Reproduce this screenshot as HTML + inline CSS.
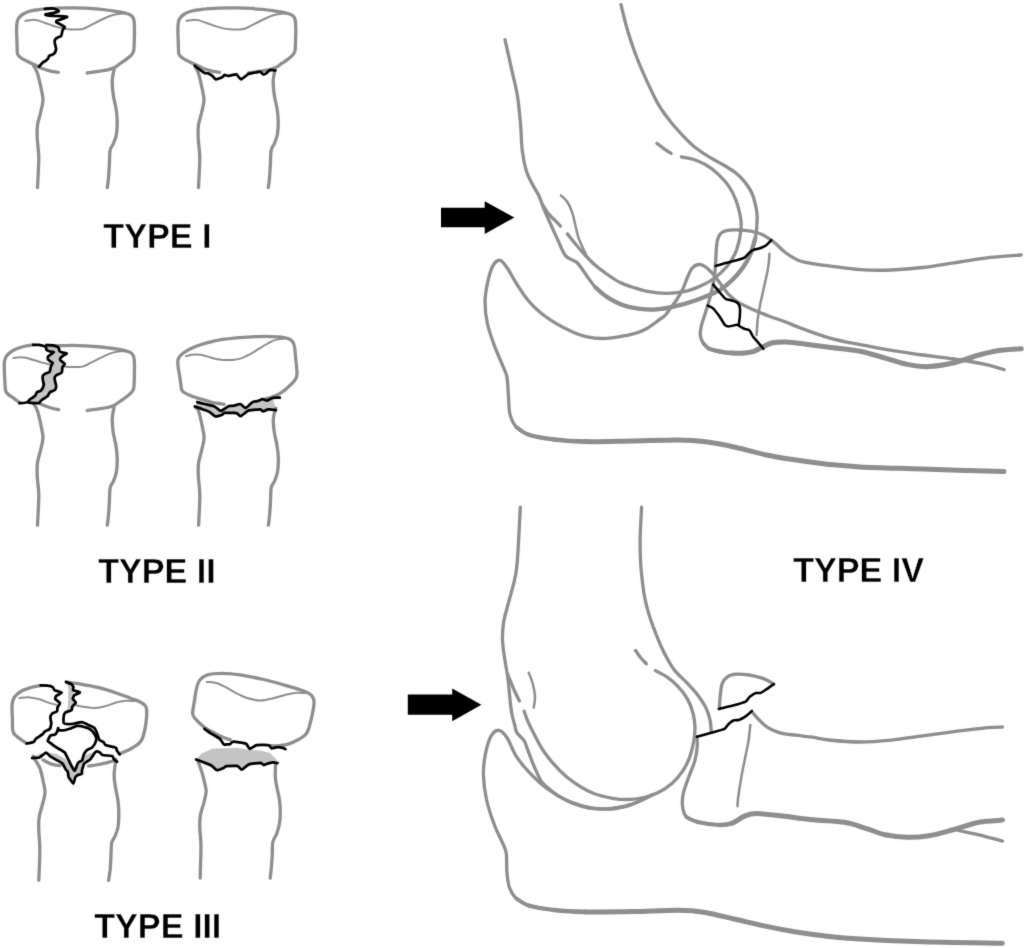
<!DOCTYPE html>
<html lang="en">
<head>
<meta charset="utf-8">
<title>Radial head fracture classification</title>
<style>
html,body{margin:0;padding:0;background:#fff;}
body{width:1024px;height:948px;overflow:hidden;}
svg{display:block;}
text{font-family:"Liberation Sans",Arial,Helvetica,sans-serif;font-weight:bold;fill:#000;}
</style>
</head>
<body>
<svg width="1024" height="948" viewBox="0 0 1024 948">
<defs><filter id="soft" filterUnits="userSpaceOnUse" x="0" y="0" width="1024" height="948" color-interpolation-filters="sRGB"><feFlood flood-color="#fff" result="bg"/><feMerge result="m"><feMergeNode in="bg"/><feMergeNode in="SourceGraphic"/></feMerge><feConvolveMatrix in="m" order="5" kernelMatrix="0.00000 0.00003 0.00021 0.00003 0.00000 0.00003 0.01133 0.08373 0.01133 0.00003 0.00021 0.08373 0.61869 0.08373 0.00021 0.00003 0.01133 0.08373 0.01133 0.00003 0.00000 0.00003 0.00021 0.00003 0.00000" edgeMode="duplicate" preserveAlpha="true"/></filter></defs>
<g filter="url(#soft)">
<path d="M58.4 72.3C57.1 72.1 53.2 71.7 50.6 71.1C48.0 70.5 45.3 69.7 42.8 68.8C40.3 67.8 38.0 66.2 35.8 65.2C33.6 64.2 31.6 63.5 29.5 62.5C27.4 61.5 25.0 60.4 23.3 59.4C21.5 58.4 20.0 57.3 19.0 56.2C18.0 55.2 17.7 55.3 17.4 53.1C17.1 50.9 17.1 46.6 17.0 43.0C16.9 39.4 16.6 34.5 16.6 31.2C16.6 28.0 16.6 25.5 16.9 23.4C17.2 21.3 17.3 20.2 18.2 18.8C19.1 17.3 20.6 15.7 22.5 14.5C24.4 13.3 27.0 12.1 29.5 11.3C32.0 10.5 34.7 10.2 37.3 9.8C39.8 9.4 41.5 9.0 44.8 8.8C48.1 8.5 52.3 8.4 56.9 8.2C61.5 8.0 67.7 7.8 72.5 7.8C77.3 7.8 80.8 7.9 85.6 8.2C90.4 8.5 96.7 9.0 101.2 9.4C105.8 9.9 109.4 10.4 113.0 10.9C116.6 11.4 120.4 11.9 123.1 12.5C125.8 13.1 127.8 13.8 129.4 14.5C131.0 15.2 131.7 15.7 132.5 16.8C133.3 17.9 133.8 18.7 134.1 21.1C134.4 23.5 134.5 27.6 134.5 31.2C134.5 34.9 134.3 39.7 134.2 43.0C134.1 46.3 134.1 48.8 133.7 50.8C133.3 52.7 132.9 53.3 131.7 54.7C130.5 56.1 128.2 57.9 126.2 59.4C124.3 60.9 122.0 62.3 120.0 63.7C118.0 65.1 116.6 66.6 114.5 67.6C112.4 68.6 110.4 69.3 107.5 69.9C104.6 70.6 100.7 71.0 97.3 71.5C93.9 72.0 88.9 72.8 87.2 73.0" fill="none" stroke="#8e8e8e" stroke-width="3.3" stroke-linecap="round" stroke-linejoin="round"/>
<path d="M25.2 20.9C26.3 20.7 29.9 20.0 31.9 19.9C33.9 19.8 35.1 19.8 37.3 20.3C39.5 20.8 42.6 22.1 45.2 23.0C47.8 23.9 50.4 24.9 53.0 25.8C55.6 26.6 58.2 27.5 60.8 28.1C63.4 28.7 66.0 29.1 68.6 29.3C71.2 29.5 73.8 29.6 76.4 29.5C79.0 29.4 81.1 29.6 84.2 28.5C87.3 27.4 91.5 24.7 95.0 23.0C98.5 21.2 102.1 19.4 105.2 18.0C108.3 16.6 111.2 15.5 113.8 14.8C116.3 14.1 118.7 13.9 120.8 13.7C122.9 13.5 125.3 13.7 126.2 13.7" fill="none" stroke="#8e8e8e" stroke-width="2.0" stroke-linecap="round" stroke-linejoin="round"/>
<path d="M33.6 65.6C34.2 66.9 36.3 69.8 37.5 73.4C38.7 77.1 40.0 83.1 40.9 87.5C41.8 91.9 43.0 95.8 43.0 100.0C42.9 104.2 41.5 108.3 40.6 112.5C39.7 116.7 38.1 120.8 37.5 125.0C36.9 129.2 37.0 132.3 37.2 137.5C37.4 142.7 38.6 150.5 38.8 156.2C38.9 162.0 38.5 166.7 38.3 171.9C38.1 177.1 37.6 184.9 37.5 187.5" fill="none" stroke="#8e8e8e" stroke-width="3.3" stroke-linecap="round" stroke-linejoin="round"/>
<path d="M114.1 69.5C113.8 71.5 112.3 77.0 112.2 81.2C112.1 85.5 112.7 90.9 113.3 95.3C113.9 99.7 115.3 103.6 115.9 107.8C116.6 112.0 117.1 115.9 117.2 120.3C117.3 124.7 117.1 130.5 116.4 134.4C115.8 138.3 114.3 141.1 113.3 143.8C112.2 146.4 110.8 146.6 110.2 150.0C109.5 153.4 109.6 159.6 109.4 164.1C109.1 168.5 108.9 172.7 108.6 176.6C108.3 180.5 107.6 185.7 107.3 187.5" fill="none" stroke="#8e8e8e" stroke-width="3.3" stroke-linecap="round" stroke-linejoin="round"/>
<path d="M44.8 8.8C45.8 8.7 50.6 8.3 52.2 8.4C53.8 8.5 56.0 9.4 56.9 9.8C57.8 10.2 59.2 10.9 58.8 11.3C58.4 11.7 55.5 12.5 53.8 12.9C52.0 13.3 46.1 14.1 45.5 14.5C44.9 14.9 47.6 15.4 49.1 15.6C50.6 15.8 54.5 15.8 56.9 16.0C59.3 16.2 66.1 16.5 67.0 16.8C67.9 17.1 65.2 17.9 63.9 18.4C62.6 18.9 57.9 20.2 56.9 20.7C55.9 21.2 56.1 21.8 56.5 22.3C56.9 22.8 58.9 23.6 60.0 24.2C61.1 24.8 64.2 26.5 64.7 27.0C65.2 27.5 64.2 27.5 63.9 28.1C63.6 28.7 62.7 30.2 62.3 31.2C61.9 32.3 61.8 35.1 61.2 35.9C60.6 36.7 58.5 37.0 57.7 37.5C56.9 38.0 55.3 39.0 54.9 39.8C54.5 40.6 54.7 42.5 54.9 43.8C55.1 45.0 56.2 48.0 56.1 49.2C56.0 50.4 55.0 52.4 54.5 53.1C54.0 53.8 52.9 54.3 52.2 54.7C51.5 55.1 49.6 55.4 49.1 55.9C48.6 56.4 48.8 57.5 48.3 58.2C47.8 58.9 46.2 60.3 45.5 60.9C44.8 61.5 43.7 61.7 42.8 62.5C41.9 63.3 39.4 66.2 38.9 66.8" fill="none" stroke="#000000" stroke-width="2.75" stroke-linecap="round" stroke-linejoin="round"/>
<path d="M219.7 72.3C218.4 72.1 214.5 71.7 211.9 71.1C209.3 70.5 206.6 69.7 204.1 68.8C201.6 67.8 199.3 66.2 197.1 65.2C194.9 64.2 192.9 63.5 190.8 62.5C188.7 61.5 186.3 60.4 184.6 59.4C182.8 58.4 181.3 57.3 180.3 56.2C179.3 55.2 179.0 55.3 178.7 53.1C178.4 50.9 178.4 46.6 178.3 43.0C178.2 39.4 177.9 34.5 177.9 31.2C177.9 28.0 177.9 25.5 178.2 23.4C178.5 21.3 178.6 20.2 179.5 18.8C180.4 17.3 181.9 15.7 183.8 14.5C185.7 13.3 188.3 12.1 190.8 11.3C193.3 10.5 196.0 10.2 198.6 9.8C201.1 9.4 202.8 9.0 206.1 8.8C209.4 8.5 213.6 8.4 218.2 8.2C222.8 8.0 229.0 7.8 233.8 7.8C238.6 7.8 242.1 7.9 246.9 8.2C251.7 8.5 258.0 9.0 262.6 9.4C267.1 9.9 270.7 10.4 274.3 10.9C277.9 11.4 281.7 11.9 284.4 12.5C287.1 13.1 289.1 13.8 290.7 14.5C292.3 15.2 293.0 15.7 293.8 16.8C294.6 17.9 295.1 18.7 295.4 21.1C295.7 23.5 295.8 27.6 295.8 31.2C295.8 34.9 295.6 39.7 295.5 43.0C295.4 46.3 295.4 48.8 295.0 50.8C294.6 52.7 294.2 53.3 293.0 54.7C291.8 56.1 289.5 57.9 287.6 59.4C285.6 60.9 283.3 62.3 281.3 63.7C279.3 65.1 277.9 66.6 275.8 67.6C273.7 68.6 271.7 69.3 268.8 69.9C265.9 70.6 262.0 71.0 258.6 71.5C255.2 72.0 250.2 72.8 248.5 73.0" fill="none" stroke="#8e8e8e" stroke-width="3.3" stroke-linecap="round" stroke-linejoin="round"/>
<path d="M186.5 20.9C187.6 20.7 191.2 20.0 193.2 19.9C195.2 19.8 196.4 19.8 198.6 20.3C200.8 20.8 203.9 22.1 206.5 23.0C209.1 23.9 211.7 24.9 214.3 25.8C216.9 26.6 219.5 27.5 222.1 28.1C224.7 28.7 227.3 29.1 229.9 29.3C232.5 29.5 235.1 29.6 237.7 29.5C240.3 29.4 242.4 29.6 245.5 28.5C248.6 27.4 252.8 24.7 256.3 23.0C259.8 21.2 263.4 19.4 266.5 18.0C269.6 16.6 272.5 15.5 275.1 14.8C277.6 14.1 280.0 13.9 282.1 13.7C284.2 13.5 286.6 13.7 287.6 13.7" fill="none" stroke="#8e8e8e" stroke-width="2.0" stroke-linecap="round" stroke-linejoin="round"/>
<path d="M194.6 65.6C195.2 66.9 197.3 69.8 198.5 73.4C199.7 77.1 201.0 83.1 201.9 87.5C202.8 91.9 204.0 95.8 204.0 100.0C203.9 104.2 202.5 108.3 201.6 112.5C200.7 116.7 199.1 120.8 198.5 125.0C197.9 129.2 198.0 132.3 198.2 137.5C198.4 142.7 199.6 150.5 199.8 156.2C199.9 162.0 199.5 166.7 199.3 171.9C199.1 177.1 198.6 184.9 198.5 187.5" fill="none" stroke="#8e8e8e" stroke-width="3.3" stroke-linecap="round" stroke-linejoin="round"/>
<path d="M275.1 69.5C274.8 71.5 273.3 77.0 273.2 81.2C273.1 85.5 273.7 90.9 274.3 95.3C274.9 99.7 276.3 103.6 276.9 107.8C277.6 112.0 278.1 115.9 278.2 120.3C278.3 124.7 278.1 130.5 277.4 134.4C276.8 138.3 275.3 141.1 274.3 143.8C273.2 146.4 271.8 146.6 271.2 150.0C270.5 153.4 270.6 159.6 270.4 164.1C270.1 168.5 269.9 172.7 269.6 176.6C269.3 180.5 268.6 185.7 268.3 187.5" fill="none" stroke="#8e8e8e" stroke-width="3.3" stroke-linecap="round" stroke-linejoin="round"/>
<path d="M194.8 65.6C195.2 66.0 198.8 68.9 199.6 69.5C200.5 70.1 203.8 72.6 204.5 72.9C205.3 73.3 207.8 73.2 208.4 73.4C209.1 73.7 211.7 75.4 212.3 75.9C213.0 76.4 214.9 79.2 215.8 79.3C216.6 79.4 221.4 77.7 222.1 77.3C222.8 77.0 224.1 75.0 224.6 74.9C225.0 74.8 227.0 75.9 228.0 75.9C228.9 75.8 235.4 74.4 236.3 74.4C237.1 74.5 237.8 76.0 238.2 76.4C238.6 76.8 240.3 79.5 241.2 79.3C242.0 79.1 247.5 74.5 248.5 73.9C249.5 73.4 252.4 73.1 253.4 72.9C254.3 72.8 259.4 71.6 260.2 71.7C261.0 71.8 262.6 74.3 263.1 74.4C263.6 74.6 265.5 73.8 266.1 73.4C266.6 73.1 269.2 70.3 270.0 70.0C270.7 69.8 274.9 70.5 275.3 70.5" fill="none" stroke="#000000" stroke-width="2.75" stroke-linecap="round" stroke-linejoin="round"/>
<path d="M46.1 347.5L46.5 349.9L50.0 351.5L53.9 352.2L48.4 356.1L47.7 358.9L50.0 361.2L52.7 362.8L50.8 366.7L49.6 371.8L44.5 374.1L42.6 376.5L43.0 380.8L43.8 384.7L42.6 388.2L40.6 390.9L37.1 392.1L35.5 395.2L32.8 397.5L29.7 399.5L27.3 402.2L28.9 402.6L39.1 403.0L40.6 401.1L43.8 398.7L47.7 396.0L50.0 392.1L54.7 390.1L56.2 386.2L55.1 381.5L54.7 377.6L56.2 375.3L61.7 372.5L62.5 367.1L64.8 364.0L60.5 360.4L60.2 358.5L62.5 356.1L66.8 353.4L62.5 352.5L59.4 351.1L59.0 348.7L57.8 347.0L53.1 345.4L46.5 345.0Z" fill="#c4c4c4" stroke="none" stroke-linecap="round" stroke-linejoin="round"/>
<path d="M33.2 344.8C32.0 345.0 28.3 345.4 25.8 346.0C23.2 346.6 20.4 347.4 18.0 348.3C15.5 349.3 12.9 350.5 10.9 351.8C9.0 353.2 7.3 355.0 6.2 356.5C5.2 358.1 4.9 359.3 4.5 361.2C4.2 363.2 4.2 365.1 4.3 368.2C4.3 371.4 4.6 376.3 4.8 380.0C5.0 383.6 5.0 387.8 5.5 390.1C6.0 392.5 6.5 392.7 7.8 394.0C9.1 395.3 11.3 396.5 13.3 397.9C15.2 399.4 18.5 401.8 19.5 402.6" fill="none" stroke="#8e8e8e" stroke-width="3.3" stroke-linecap="round" stroke-linejoin="round"/>
<path d="M13.3 357.9C14.3 357.8 17.4 357.2 19.5 357.2C21.6 357.1 23.4 357.2 25.8 357.7C28.1 358.2 31.0 359.3 33.6 360.0C36.2 360.8 38.7 361.6 41.4 362.4C44.1 363.1 48.6 364.1 50.0 364.5" fill="none" stroke="#8e8e8e" stroke-width="2.0" stroke-linecap="round" stroke-linejoin="round"/>
<path d="M46.5 345.8C48.2 345.8 52.6 345.9 56.9 345.8C61.2 345.7 67.7 345.4 72.5 345.4C77.3 345.4 80.8 345.5 85.6 345.8C90.4 346.1 96.7 346.6 101.2 347.0C105.8 347.5 109.4 348.0 113.0 348.5C116.6 349.0 120.4 349.5 123.1 350.1C125.8 350.7 127.8 351.4 129.4 352.1C131.0 352.8 131.7 353.3 132.5 354.4C133.3 355.5 133.8 356.3 134.1 358.7C134.4 361.1 134.5 365.2 134.5 368.9C134.5 372.5 134.3 377.3 134.2 380.6C134.1 383.9 134.1 386.4 133.7 388.4C133.3 390.3 132.9 390.9 131.7 392.3C130.5 393.7 128.2 395.5 126.2 397.0C124.3 398.5 122.0 399.9 120.0 401.3C118.0 402.7 116.6 404.2 114.5 405.2C112.4 406.2 110.4 406.9 107.5 407.5C104.6 408.2 100.7 408.6 97.3 409.1C93.9 409.6 88.9 410.4 87.2 410.6" fill="none" stroke="#8e8e8e" stroke-width="3.3" stroke-linecap="round" stroke-linejoin="round"/>
<path d="M64.8 366.6C65.4 366.6 66.7 366.8 68.6 366.9C70.5 367.0 73.8 367.2 76.4 367.1C79.0 367.0 81.1 367.2 84.2 366.1C87.3 365.0 91.5 362.4 95.0 360.6C98.5 358.9 102.1 357.0 105.2 355.6C108.3 354.2 111.2 353.1 113.8 352.4C116.3 351.7 118.7 351.5 120.8 351.3C122.9 351.1 125.3 351.3 126.2 351.3" fill="none" stroke="#8e8e8e" stroke-width="2.0" stroke-linecap="round" stroke-linejoin="round"/>
<path d="M38.7 403.2C39.3 403.5 40.8 404.3 42.2 404.8C43.6 405.4 45.1 405.9 46.9 406.5C48.7 407.1 51.2 408.0 53.1 408.5C55.1 409.0 57.7 409.5 58.6 409.7" fill="none" stroke="#8e8e8e" stroke-width="3.3" stroke-linecap="round" stroke-linejoin="round"/>
<path d="M33.6 403.2C34.2 404.5 36.3 407.4 37.5 411.0C38.7 414.7 40.0 420.7 40.9 425.1C41.8 429.5 43.0 433.4 43.0 437.6C42.9 441.8 41.5 445.9 40.6 450.1C39.7 454.3 38.1 458.4 37.5 462.6C36.9 466.8 37.0 469.9 37.2 475.1C37.4 480.3 38.6 488.1 38.8 493.9C38.9 499.6 38.5 504.3 38.3 509.5C38.1 514.7 37.6 522.5 37.5 525.1" fill="none" stroke="#8e8e8e" stroke-width="3.3" stroke-linecap="round" stroke-linejoin="round"/>
<path d="M114.1 407.1C113.8 409.1 112.3 414.6 112.2 418.9C112.1 423.1 112.7 428.5 113.3 432.9C113.9 437.3 115.3 441.2 115.9 445.4C116.6 449.6 117.1 453.5 117.2 457.9C117.3 462.3 117.1 468.1 116.4 472.0C115.8 475.9 114.3 478.7 113.3 481.4C112.2 484.0 110.8 484.2 110.2 487.6C109.5 491.0 109.6 497.2 109.4 501.7C109.1 506.1 108.9 510.3 108.6 514.2C108.3 518.1 107.6 523.3 107.3 525.1" fill="none" stroke="#8e8e8e" stroke-width="3.3" stroke-linecap="round" stroke-linejoin="round"/>
<path d="M33.2 344.8C33.7 344.8 38.2 344.7 39.1 344.8C39.9 344.9 43.2 345.8 43.8 346.0C44.3 346.2 45.9 347.2 46.1 347.5C46.3 347.9 46.2 349.6 46.5 349.9C46.8 350.2 49.4 351.3 50.0 351.5C50.6 351.6 54.0 351.8 53.9 352.2C53.8 352.6 49.0 355.6 48.4 356.1C47.9 356.7 47.5 358.5 47.7 358.9C47.8 359.3 49.6 360.9 50.0 361.2C50.4 361.5 52.7 362.3 52.7 362.8C52.8 363.2 51.0 365.9 50.8 366.7C50.5 367.4 50.1 371.1 49.6 371.8C49.1 372.4 45.1 373.7 44.5 374.1C43.9 374.5 42.7 375.9 42.6 376.5C42.4 377.0 42.9 380.1 43.0 380.8C43.1 381.4 43.8 384.0 43.8 384.7C43.7 385.3 42.8 387.7 42.6 388.2C42.3 388.7 41.1 390.6 40.6 390.9C40.2 391.2 37.5 391.7 37.1 392.1C36.7 392.4 35.9 394.7 35.5 395.2C35.2 395.7 33.3 397.2 32.8 397.5C32.3 397.9 30.1 399.1 29.7 399.5C29.2 399.9 28.2 401.9 27.3 402.2C26.5 402.5 20.2 403.2 19.5 403.2" fill="none" stroke="#000000" stroke-width="2.75" stroke-linecap="round" stroke-linejoin="round"/>
<path d="M46.5 345.0C47.0 345.1 52.2 345.3 53.1 345.4C54.1 345.6 57.3 346.7 57.8 347.0C58.3 347.3 58.9 348.4 59.0 348.7C59.1 349.1 59.1 350.8 59.4 351.1C59.7 351.4 61.9 352.3 62.5 352.5C63.1 352.7 66.8 353.1 66.8 353.4C66.8 353.7 63.1 355.7 62.5 356.1C61.9 356.6 60.3 358.1 60.2 358.5C60.0 358.8 60.2 360.0 60.5 360.4C60.9 360.9 64.7 363.4 64.8 364.0C65.0 364.5 62.8 366.4 62.5 367.1C62.2 367.8 62.2 371.9 61.7 372.5C61.2 373.2 56.8 374.9 56.2 375.3C55.7 375.7 54.8 377.1 54.7 377.6C54.6 378.1 54.9 380.8 55.1 381.5C55.2 382.2 56.3 385.5 56.2 386.2C56.2 386.9 55.2 389.6 54.7 390.1C54.2 390.6 50.6 391.6 50.0 392.1C49.4 392.6 48.2 395.4 47.7 396.0C47.1 396.5 44.3 398.3 43.8 398.7C43.2 399.1 41.0 400.7 40.6 401.1C40.2 401.4 40.0 402.9 39.1 403.0C38.1 403.1 29.8 402.7 28.9 402.6" fill="none" stroke="#000000" stroke-width="2.75" stroke-linecap="round" stroke-linejoin="round"/>
<path d="M197.3 402.1L204.6 404.0L213.4 406.0L217.3 408.4L220.8 410.9L229.1 406.0L233.9 405.7L240.3 404.0L245.7 407.9L252.5 402.1L257.4 401.1L262.8 399.2L267.1 400.6L273.0 397.9L274.2 403.6L275.9 410.2L268.1 409.4L263.2 411.4L260.3 409.4L253.5 409.9L247.6 410.9L240.8 416.2L236.9 413.3L233.9 412.8L224.2 412.8L222.2 414.8L215.4 416.4L209.5 411.9L201.7 408.9L194.9 406.5Z" fill="#c4c4c4" stroke="none" stroke-linecap="round" stroke-linejoin="round"/>
<path d="M224.2 404.3C222.3 404.0 216.2 403.4 213.0 402.7C209.8 402.0 207.8 401.1 205.2 400.3C202.6 399.5 199.9 398.9 197.3 398.0C194.7 397.1 191.7 396.1 189.5 395.2C187.3 394.3 185.4 393.4 184.1 392.5C182.8 391.6 182.2 391.1 181.7 389.8C181.2 388.5 181.2 386.9 180.9 384.7C180.6 382.5 180.2 379.8 179.8 376.9C179.4 374.0 178.5 370.1 178.2 367.5C177.9 364.9 177.7 362.9 177.8 361.2C177.9 359.6 178.1 358.7 179.0 357.3C179.9 355.9 181.3 354.5 183.3 353.0C185.3 351.5 188.1 349.8 191.1 348.4C194.1 347.0 197.6 345.7 201.2 344.5C204.9 343.3 209.1 342.2 213.0 341.3C216.9 340.4 220.8 339.8 224.7 339.2C228.6 338.6 231.9 338.2 236.4 337.8C240.9 337.4 246.8 337.1 251.7 336.9C256.6 336.7 261.5 336.4 265.8 336.4C270.1 336.4 274.2 336.7 277.5 336.9C280.8 337.1 283.2 337.4 285.3 337.8C287.4 338.2 288.7 338.6 290.0 339.4C291.3 340.2 292.3 341.1 293.1 342.5C293.9 343.9 294.3 345.5 294.7 348.0C295.1 350.5 295.3 354.1 295.6 357.3C295.9 360.6 296.4 364.8 296.6 367.5C296.8 370.2 297.1 371.9 297.0 373.8C296.9 375.6 296.7 376.8 295.9 378.4C295.1 380.0 293.8 381.5 292.3 383.1C290.8 384.7 288.7 386.6 286.9 388.2C285.1 389.8 283.1 391.3 281.4 392.5C279.7 393.7 278.4 394.4 276.7 395.2C275.0 396.0 273.1 396.6 271.2 397.2C269.4 397.8 266.7 398.5 265.8 398.8" fill="none" stroke="#8e8e8e" stroke-width="3.3" stroke-linecap="round" stroke-linejoin="round"/>
<path d="M186.0 356.2C187.0 356.0 190.0 355.1 191.9 354.8C193.8 354.5 195.4 354.5 197.3 354.6C199.2 354.7 201.2 354.9 203.6 355.4C205.9 355.9 208.8 357.0 211.4 357.7C214.0 358.4 216.6 359.1 219.2 359.5C221.8 359.9 224.4 360.1 227.0 360.1C229.6 360.1 232.3 360.0 234.8 359.7C237.3 359.4 240.0 358.7 241.9 358.1C243.8 357.5 244.2 357.2 246.2 356.2C248.3 355.2 251.2 353.6 254.1 351.9C257.0 350.2 260.5 347.7 263.4 346.0C266.3 344.3 268.9 342.8 271.2 341.7C273.6 340.6 275.4 339.9 277.5 339.4C279.6 338.9 282.7 338.7 283.8 338.6" fill="none" stroke="#8e8e8e" stroke-width="2.0" stroke-linecap="round" stroke-linejoin="round"/>
<path d="M195.6 407.3C196.1 408.0 197.5 408.1 198.6 411.1C199.7 414.1 201.1 420.7 202.0 425.2C202.9 429.6 204.1 433.5 204.1 437.7C204.0 441.8 202.6 446.0 201.7 450.2C200.8 454.3 199.2 458.5 198.6 462.7C198.0 466.8 198.1 469.9 198.3 475.2C198.5 480.4 199.7 488.2 199.8 493.9C200.0 499.6 199.6 504.3 199.4 509.5C199.2 514.7 198.7 522.6 198.6 525.2" fill="none" stroke="#8e8e8e" stroke-width="3.3" stroke-linecap="round" stroke-linejoin="round"/>
<path d="M275.8 408.1C275.4 409.9 273.5 414.8 273.3 418.9C273.0 423.0 273.8 428.5 274.4 433.0C275.0 437.4 276.4 441.3 277.0 445.5C277.7 449.6 278.2 453.5 278.3 458.0C278.4 462.4 278.2 468.1 277.5 472.0C276.8 475.9 275.4 478.8 274.4 481.4C273.3 484.0 271.9 484.3 271.2 487.7C270.6 491.0 270.7 497.3 270.5 501.7C270.2 506.1 270.0 510.3 269.7 514.2C269.3 518.1 268.6 523.3 268.4 525.2" fill="none" stroke="#8e8e8e" stroke-width="3.3" stroke-linecap="round" stroke-linejoin="round"/>
<path d="M197.3 402.1C197.9 402.3 203.3 403.7 204.6 404.0C206.0 404.4 212.4 405.6 213.4 406.0C214.5 406.4 216.7 408.0 217.3 408.4C218.0 408.8 219.8 411.1 220.8 410.9C221.7 410.7 228.0 406.4 229.1 406.0C230.2 405.6 233.0 405.9 233.9 405.7C234.9 405.5 239.3 403.9 240.3 404.0C241.3 404.2 244.6 408.1 245.7 407.9C246.7 407.8 251.5 402.7 252.5 402.1C253.5 401.5 256.5 401.4 257.4 401.1C258.2 400.9 261.9 399.2 262.8 399.2C263.6 399.1 266.3 400.7 267.1 400.6C268.0 400.5 271.9 398.1 273.0 397.9C274.1 397.6 279.3 397.7 279.8 397.7" fill="none" stroke="#000000" stroke-width="2.75" stroke-linecap="round" stroke-linejoin="round"/>
<path d="M194.9 406.5C195.5 406.7 200.5 408.5 201.7 408.9C202.9 409.4 208.4 411.2 209.5 411.9C210.7 412.5 214.3 416.2 215.4 416.4C216.4 416.7 221.5 415.1 222.2 414.8C223.0 414.5 223.2 413.0 224.2 412.8C225.2 412.7 232.9 412.8 233.9 412.8C235.0 412.9 236.3 413.0 236.9 413.3C237.4 413.6 239.9 416.5 240.8 416.2C241.7 416.0 246.6 411.4 247.6 410.9C248.7 410.3 252.4 410.0 253.5 409.9C254.5 409.8 259.5 409.3 260.3 409.4C261.1 409.5 262.6 411.4 263.2 411.4C263.9 411.4 267.1 409.5 268.1 409.4C269.2 409.3 275.3 410.1 275.9 410.2" fill="none" stroke="#000000" stroke-width="2.75" stroke-linecap="round" stroke-linejoin="round"/>
<path d="M66.7 682.9L68.5 689.6L68.3 696.8L67.9 704.1L67.3 710.2L71.5 709.6L72.4 706.5L75.2 702.9L72.8 698.7L74.0 695.0L73.1 690.2L73.1 687.1L70.9 684.1Z" fill="#c4c4c4" stroke="none" stroke-linecap="round" stroke-linejoin="round"/>
<path d="M32.7 756.9L39.4 753.8L46.1 752.4L56.4 753.8L64.9 758.7L70.9 764.8L74.6 770.8L77.0 762.9L82.5 757.5L87.9 753.8L92.8 752.6L95.8 751.7L90.3 759.3L84.3 763.5L81.9 770.8L81.9 773.8L77.6 775.1L75.2 777.5L73.4 783.6L68.5 776.9L67.9 772.0L65.5 769.0L62.4 763.5L56.4 759.9L50.3 756.3L46.1 752.6L39.4 757.5L32.1 758.1Z" fill="#c4c4c4" stroke="none" stroke-linecap="round" stroke-linejoin="round"/>
<path d="M40.4 685.6C39.0 685.8 35.4 686.3 32.2 687.2C29.1 688.2 24.5 689.4 21.6 691.0C18.6 692.6 16.1 694.7 14.5 697.0C13.0 699.2 12.5 700.9 12.1 704.5C11.8 708.1 12.2 713.9 12.4 718.4C12.5 722.9 12.2 728.3 13.0 731.4C13.8 734.5 15.0 734.8 17.2 736.7C19.5 738.7 24.9 742.1 26.4 743.2" fill="none" stroke="#8e8e8e" stroke-width="3.3" stroke-linecap="round" stroke-linejoin="round"/>
<path d="M19.4 698.0C21.1 697.9 26.4 697.2 29.7 697.4C33.0 697.6 36.2 698.3 39.4 699.3C42.6 700.2 46.3 702.0 49.1 702.9C51.9 703.8 55.2 704.4 56.4 704.7" fill="none" stroke="#8e8e8e" stroke-width="2.0" stroke-linecap="round" stroke-linejoin="round"/>
<path d="M66.1 682.0C68.5 682.4 75.2 683.1 80.6 684.1C86.1 685.0 92.8 686.2 98.8 687.7C104.9 689.3 111.8 691.5 117.0 693.2C122.2 694.9 126.2 696.6 130.0 698.0C133.8 699.5 137.6 700.7 140.1 701.9C142.6 703.1 143.8 703.9 144.9 705.3C146.0 706.7 146.6 707.1 146.7 710.2C146.9 713.2 146.6 718.9 145.9 723.5C145.2 728.2 143.8 734.6 142.5 738.1C141.2 741.5 140.3 742.3 138.3 744.1C136.2 746.0 133.1 747.6 130.0 749.2C126.9 750.8 121.4 753.1 119.7 753.8" fill="none" stroke="#8e8e8e" stroke-width="3.3" stroke-linecap="round" stroke-linejoin="round"/>
<path d="M76.4 705.3C77.9 705.6 82.4 706.7 85.5 707.1C88.6 707.6 92.0 708.1 95.2 708.0C98.4 707.8 101.3 707.2 104.9 706.3C108.5 705.3 113.6 703.2 117.0 702.3C120.5 701.4 122.3 700.9 125.5 700.7C128.8 700.5 134.6 700.9 136.4 701.0" fill="none" stroke="#8e8e8e" stroke-width="2.0" stroke-linecap="round" stroke-linejoin="round"/>
<path d="M43.0 759.9C44.5 760.6 48.7 763.2 51.5 764.1C54.4 765.1 58.6 765.5 60.0 765.7" fill="none" stroke="#8e8e8e" stroke-width="3.3" stroke-linecap="round" stroke-linejoin="round"/>
<path d="M88.5 766.0C90.2 765.7 95.7 765.1 98.8 764.5C102.0 763.9 104.7 763.2 107.3 762.6C110.0 761.9 113.4 760.9 114.6 760.5" fill="none" stroke="#8e8e8e" stroke-width="3.3" stroke-linecap="round" stroke-linejoin="round"/>
<path d="M33.3 756.1C33.6 756.7 34.1 758.0 35.2 760.0C36.2 762.0 38.5 764.4 39.8 767.8C41.1 771.2 42.1 776.1 43.0 780.3C43.8 784.5 45.1 788.6 45.0 792.8C44.9 797.0 43.2 801.1 42.2 805.3C41.2 809.5 39.6 813.6 39.1 817.8C38.5 822.0 38.6 825.4 38.8 830.3C38.9 835.3 39.7 841.5 39.8 847.5C39.9 853.5 39.6 860.8 39.4 866.2C39.2 871.7 38.9 878.0 38.8 880.3" fill="none" stroke="#8e8e8e" stroke-width="3.3" stroke-linecap="round" stroke-linejoin="round"/>
<path d="M115.8 759.2C115.8 759.6 115.9 758.8 115.6 761.6C115.3 764.3 114.1 771.2 114.1 775.6C114.1 780.1 115.0 784.0 115.6 788.1C116.3 792.3 117.4 796.5 118.0 800.6C118.5 804.8 118.8 808.7 118.8 813.1C118.8 817.6 118.6 823.3 118.0 827.2C117.3 831.1 115.9 834.0 114.8 836.6C113.8 839.2 112.4 839.4 111.7 842.8C111.1 846.2 111.2 852.4 110.9 856.9C110.7 861.3 110.5 865.5 110.2 869.4C109.8 873.3 108.9 878.5 108.6 880.3" fill="none" stroke="#8e8e8e" stroke-width="3.3" stroke-linecap="round" stroke-linejoin="round"/>
<path d="M40.6 685.3C41.2 685.3 46.9 685.5 47.9 685.7C48.9 685.8 52.2 686.8 52.7 687.1C53.3 687.5 53.8 689.7 54.6 690.2C55.3 690.6 61.7 692.1 61.8 692.6C62.0 693.1 56.9 695.3 56.4 695.9C55.8 696.4 54.9 698.4 55.2 699.0C55.5 699.6 59.8 702.5 60.0 703.1C60.2 703.8 57.9 706.5 57.6 707.1C57.3 707.8 57.4 710.9 57.0 711.4C56.5 711.9 52.7 713.1 52.1 713.6C51.6 714.1 50.4 716.6 50.3 717.4C50.3 718.3 51.3 722.6 51.3 723.5C51.2 724.5 50.3 728.3 49.7 729.0C49.2 729.6 45.5 730.9 44.9 731.4C44.3 731.9 43.2 733.8 42.4 734.4C41.7 735.0 36.5 738.1 35.8 738.7C35.1 739.3 34.7 741.3 33.9 741.7C33.2 742.1 27.3 743.4 26.7 743.5" fill="none" stroke="#000000" stroke-width="2.75" stroke-linecap="round" stroke-linejoin="round"/>
<path d="M66.1 682.0C66.5 682.2 70.9 683.7 71.5 684.1C72.2 684.5 73.2 686.6 73.4 687.1C73.5 687.6 72.6 689.7 73.1 690.2C73.7 690.6 79.9 691.9 80.0 692.3C80.2 692.7 75.2 694.5 74.6 695.0C74.0 695.5 72.7 698.0 72.8 698.7C72.9 699.3 75.8 702.0 75.8 702.7C75.8 703.3 72.7 705.9 72.4 706.5C72.0 707.2 72.1 709.7 71.5 710.2C71.0 710.7 66.1 711.9 65.5 712.4C64.8 712.9 63.8 715.4 63.7 716.2C63.5 717.1 63.3 722.3 63.7 722.9C64.1 723.6 67.6 724.1 68.5 724.1C69.4 724.2 73.5 723.7 74.6 723.5C75.7 723.3 80.7 722.0 81.9 722.1C83.0 722.2 86.9 724.2 87.9 724.7C89.0 725.2 93.8 727.4 94.6 728.1C95.3 728.8 96.6 732.2 97.0 733.2C97.4 734.2 98.9 739.1 99.4 739.9C100.0 740.6 103.2 741.9 103.7 742.3C104.2 742.7 104.5 744.6 105.5 745.1C106.5 745.6 114.9 747.3 115.8 747.8C116.8 748.2 116.7 750.2 117.0 750.8C117.4 751.4 119.5 754.1 119.7 754.4" fill="none" stroke="#000000" stroke-width="2.75" stroke-linecap="round" stroke-linejoin="round"/>
<path d="M58.2 728.1C58.4 728.0 58.3 730.0 58.8 730.2C59.4 730.4 63.9 730.3 64.9 730.2C65.9 730.0 69.9 728.7 70.9 728.4C72.0 728.0 75.8 726.0 77.0 725.9C78.2 725.8 83.7 726.8 84.9 727.2C86.1 727.5 90.1 729.2 91.0 729.8C91.8 730.4 94.1 733.4 94.6 734.2C95.0 734.9 96.4 737.9 96.4 738.7C96.4 739.5 95.3 742.8 95.0 743.5C94.6 744.3 92.4 747.2 91.8 747.8C91.2 748.3 87.9 749.4 87.3 749.8C86.7 750.2 85.2 752.0 84.9 752.6C84.5 753.2 83.3 756.2 83.1 756.9C82.8 757.5 82.5 760.0 82.1 760.5C81.7 761.0 78.7 762.0 78.2 762.6C77.7 763.1 76.7 766.2 76.4 766.9C76.1 767.6 75.0 771.0 74.6 770.8C74.1 770.6 71.5 765.8 70.9 764.8C70.4 763.7 68.4 759.7 67.9 758.7C67.4 757.7 65.4 753.3 64.9 752.6C64.3 751.9 62.0 750.7 61.2 750.2C60.4 749.7 56.1 747.2 55.2 746.6C54.3 746.0 50.9 743.4 50.3 742.9C49.7 742.5 47.7 741.7 47.7 741.1C47.7 740.5 49.7 736.2 50.3 735.6C50.9 735.1 54.6 734.7 55.2 734.4C55.7 734.1 56.7 732.5 57.0 732.0C57.2 731.5 58.1 728.3 58.2 728.1Z" fill="none" stroke="#000000" stroke-width="2.75" stroke-linecap="round" stroke-linejoin="round"/>
<path d="M32.1 758.1C32.7 758.0 38.2 757.9 39.4 757.5C40.6 757.0 45.2 752.7 46.1 752.6C47.0 752.5 49.5 755.7 50.3 756.3C51.2 756.9 55.4 759.3 56.4 759.9C57.4 760.5 61.7 762.8 62.4 763.5C63.2 764.3 65.0 768.3 65.5 769.0C65.9 769.7 67.7 771.4 67.9 772.0C68.2 772.7 68.1 775.9 68.5 776.9C69.0 777.8 72.8 783.5 73.4 783.6C73.9 783.6 74.8 778.2 75.2 777.5C75.5 776.8 77.1 775.4 77.6 775.1C78.2 774.8 81.5 774.2 81.9 773.8C82.2 773.5 81.7 771.7 81.9 770.8C82.1 770.0 83.6 764.5 84.3 763.5C85.0 762.6 89.4 760.3 90.3 759.3C91.3 758.3 95.0 752.2 95.8 751.7C96.6 751.1 99.5 752.3 100.0 752.6C100.6 752.9 101.5 754.8 102.5 755.0C103.5 755.3 111.2 755.7 112.2 756.0C113.1 756.4 113.6 758.8 114.0 759.3C114.4 759.8 116.8 761.5 117.0 761.7" fill="none" stroke="#000000" stroke-width="2.75" stroke-linecap="round" stroke-linejoin="round"/>
<path d="M196.2 759.2L201.2 753.8L212.2 748.8L224.7 748.3L237.2 747.8L248.1 749.8L260.6 750.6L270.0 753.0L277.0 760.0L277.5 763.1L273.1 762.3L269.2 763.1L263.8 765.0L260.6 762.8L248.9 764.4L241.9 769.7L237.2 765.9L226.2 766.2L223.9 767.8L216.9 770.2L211.4 765.5L203.6 762.3L196.2 759.5Z" fill="#c4c4c4" stroke="none" stroke-linecap="round" stroke-linejoin="round"/>
<path d="M230.2 739.7C229.0 739.3 225.9 738.5 223.1 737.3C220.4 736.2 216.9 734.3 213.8 732.7C210.6 731.0 207.2 729.3 204.4 727.2C201.5 725.1 198.5 722.4 196.6 720.2C194.6 717.9 193.0 716.9 192.7 713.9C192.3 710.9 193.6 706.5 194.2 702.2C194.9 697.9 195.7 691.8 196.6 688.1C197.5 684.5 197.9 682.5 199.7 680.3C201.5 678.1 203.9 676.0 207.5 674.8C211.1 673.7 216.1 673.3 221.6 673.3C227.0 673.3 233.3 673.8 240.3 674.8C247.3 675.9 255.9 677.7 263.8 679.5C271.6 681.4 280.4 683.8 287.2 685.8C294.0 687.7 300.3 689.7 304.4 691.2C308.4 692.8 309.8 693.3 311.4 695.2C313.0 697.0 313.9 698.9 314.1 702.2C314.2 705.4 313.0 710.5 312.2 714.7C311.4 718.9 310.1 723.9 309.1 727.2C308.0 730.4 307.8 732.1 305.9 734.2C304.1 736.3 301.2 738.0 298.1 739.7C295.0 741.4 290.8 743.3 287.2 744.4C283.5 745.4 279.1 745.7 276.2 745.9C273.4 746.1 271.0 745.7 270.0 745.6" fill="none" stroke="#8e8e8e" stroke-width="3.3" stroke-linecap="round" stroke-linejoin="round"/>
<path d="M206.7 681.9C208.2 682.0 212.3 681.9 215.3 682.7C218.3 683.4 221.3 684.9 224.7 686.6C228.1 688.3 231.7 690.9 235.6 692.8C239.5 694.8 244.0 697.0 248.1 698.3C252.3 699.6 256.5 700.6 260.6 700.6C264.8 700.6 269.0 699.3 273.1 698.3C277.3 697.3 281.7 695.6 285.6 694.7C289.5 693.8 293.2 693.1 296.6 692.8C299.9 692.6 304.4 693.1 305.9 693.1" fill="none" stroke="#8e8e8e" stroke-width="2.0" stroke-linecap="round" stroke-linejoin="round"/>
<path d="M198.3 761.7C198.9 763.7 201.0 769.4 202.2 773.4C203.4 777.5 204.7 782.8 205.3 785.9C206.0 789.1 206.4 789.3 206.1 792.2C205.8 795.1 204.7 799.2 203.8 803.1C202.8 807.0 201.0 811.5 200.3 815.6C199.7 819.8 199.7 823.4 199.8 828.1C199.9 832.8 200.8 838.0 200.9 843.8C201.1 849.5 200.8 856.8 200.6 862.5C200.5 868.2 200.2 875.5 200.2 878.1" fill="none" stroke="#8e8e8e" stroke-width="3.3" stroke-linecap="round" stroke-linejoin="round"/>
<path d="M275.6 764.1C275.6 766.1 275.1 772.7 275.3 776.6C275.5 780.5 276.2 783.6 276.9 787.5C277.6 791.4 279.0 795.8 279.5 800.0C280.1 804.2 280.3 808.6 280.3 812.5C280.3 816.4 280.2 819.8 279.5 823.4C278.9 827.1 277.5 831.2 276.4 834.4C275.3 837.5 273.5 838.5 272.8 842.2C272.1 845.8 272.4 851.8 272.2 856.2C271.9 860.7 271.6 865.1 271.2 868.8C270.9 872.4 270.3 876.6 270.2 878.1" fill="none" stroke="#8e8e8e" stroke-width="3.3" stroke-linecap="round" stroke-linejoin="round"/>
<path d="M204.4 728.8C205.0 729.2 210.9 733.4 212.2 734.2C213.5 735.1 219.0 738.1 220.0 738.9C221.0 739.8 223.1 743.9 223.9 744.4C224.8 744.8 229.4 744.3 230.2 744.1C230.9 743.8 232.0 741.6 233.3 741.6C234.6 741.5 244.4 743.0 245.8 743.6C247.1 744.2 248.8 748.6 249.7 748.8C250.6 748.9 255.2 745.5 256.7 745.2C258.3 744.9 267.2 744.9 268.4 745.2C269.7 745.4 270.8 748.1 271.6 748.3C272.3 748.5 276.9 747.2 277.8 747.2C278.7 747.1 281.9 747.7 282.5 747.8C283.1 748.0 285.1 749.0 285.3 749.1" fill="none" stroke="#000000" stroke-width="2.75" stroke-linecap="round" stroke-linejoin="round"/>
<path d="M196.2 759.5C196.9 759.8 202.3 761.8 203.6 762.3C204.9 762.8 210.3 764.8 211.4 765.5C212.5 766.1 215.8 770.0 216.9 770.2C217.9 770.4 223.1 768.1 223.9 767.8C224.7 767.5 225.1 766.4 226.2 766.2C227.4 766.1 235.9 765.7 237.2 765.9C238.5 766.2 240.9 769.8 241.9 769.7C242.9 769.6 247.3 764.9 248.9 764.4C250.5 763.8 259.4 762.8 260.6 762.8C261.9 762.9 263.0 765.0 263.8 765.0C264.5 765.0 268.4 763.3 269.2 763.1C270.0 762.9 272.4 762.3 273.1 762.3C273.8 762.3 277.1 763.1 277.5 763.1" fill="none" stroke="#000000" stroke-width="2.75" stroke-linecap="round" stroke-linejoin="round"/>
<path d="M505.0 39.7C506.2 45.1 510.1 62.4 512.2 71.9C514.3 81.4 516.2 88.1 517.6 96.9C519.0 105.8 519.8 116.2 520.6 125.0C521.4 133.8 521.3 142.4 522.2 150.0C523.1 157.6 524.5 164.8 526.1 170.3C527.7 175.8 529.5 178.6 531.6 182.8C533.7 187.0 536.5 190.9 538.6 195.3C540.7 199.7 542.2 204.7 544.1 209.4C546.0 214.1 548.0 218.2 550.3 223.4C552.6 228.6 555.5 235.1 558.1 240.6C560.7 246.1 562.8 252.6 565.9 256.2C569.0 259.9 573.5 259.4 576.9 262.5C580.3 265.6 583.1 270.8 586.2 275.0C589.4 279.2 592.2 283.9 595.6 287.5C599.0 291.1 602.4 294.0 606.9 296.9C611.4 299.8 617.3 303.1 622.5 305.0C627.7 306.9 632.4 307.9 638.1 308.6C643.8 309.3 650.6 309.8 656.9 309.4C663.1 309.0 669.4 307.7 675.6 306.2C681.9 304.8 687.4 303.3 694.4 300.8C701.4 298.3 711.5 294.7 717.8 291.2C724.0 287.8 727.7 284.2 731.9 280.3C736.1 276.4 739.7 272.2 742.8 267.8C745.9 263.4 748.5 258.7 750.6 253.8C752.7 248.8 754.2 244.1 755.3 238.1C756.4 232.1 757.2 223.3 757.2 217.8C757.2 212.3 756.5 209.5 755.6 205.3C754.7 201.1 753.5 196.7 751.7 192.8C749.9 188.9 747.4 185.3 744.7 181.9C742.0 178.5 738.7 175.2 735.3 172.5C731.9 169.8 728.6 168.0 724.4 165.5C720.2 163.0 715.0 160.6 710.3 157.7C705.6 154.8 700.7 151.8 696.2 148.3C691.8 144.8 687.9 140.9 683.8 136.6C679.6 132.3 674.9 126.9 671.2 122.5C667.6 118.1 664.7 114.3 661.9 110.0C659.1 105.7 658.3 104.8 654.4 96.9C650.5 89.0 643.2 73.4 638.8 62.5C634.3 51.6 630.8 40.9 627.8 31.2C624.8 21.6 622.1 9.1 621.0 4.7" fill="none" stroke="#8e8e8e" stroke-width="3.3" stroke-linecap="round" stroke-linejoin="round"/>
<path d="M595.6 287.5C597.5 289.1 602.4 294.0 606.9 296.9C611.4 299.8 617.3 303.1 622.5 305.0C627.7 306.9 632.4 307.9 638.1 308.6C643.8 309.3 650.6 309.8 656.9 309.4C663.1 309.0 669.4 307.7 675.6 306.2C681.9 304.8 687.4 303.3 694.4 300.8C701.4 298.3 711.5 294.7 717.8 291.2C724.0 287.8 727.7 284.2 731.9 280.3C736.1 276.4 739.7 272.2 742.8 267.8C745.9 263.4 748.5 258.7 750.6 253.8C752.7 248.8 754.5 240.7 755.3 238.1" fill="none" stroke="#8e8e8e" stroke-width="4.3" stroke-linecap="round" stroke-linejoin="round"/>
<path d="M567.5 233.9C568.8 235.5 572.4 240.3 575.3 243.8C578.2 247.2 581.3 251.1 584.7 254.7C588.1 258.3 591.7 262.2 595.6 265.6C599.5 269.0 603.9 272.1 608.1 275.0C612.3 277.9 616.6 280.8 620.6 282.8C624.6 284.8 627.5 285.6 632.0 287.0C636.5 288.4 641.8 290.3 647.5 291.4C653.2 292.5 660.0 293.4 666.2 293.4C672.5 293.4 679.3 292.6 685.0 291.4C690.7 290.1 695.8 288.0 700.6 285.9C705.4 283.8 709.6 281.8 714.0 278.5C718.4 275.2 723.7 270.4 727.2 266.2C730.7 262.1 732.9 258.4 735.0 253.8C737.1 249.1 738.7 242.9 739.7 238.1C740.7 233.3 741.2 228.9 741.2 225.0C741.2 221.1 740.9 218.8 740.0 214.7C739.1 210.6 737.9 205.3 736.1 200.6C734.3 195.9 732.1 191.0 729.1 186.6C726.1 182.2 722.0 177.8 718.1 174.1C714.2 170.4 709.8 167.2 705.6 164.7C701.4 162.2 697.1 160.5 693.1 159.2C689.1 157.9 683.4 157.3 681.4 156.9" fill="none" stroke="#8e8e8e" stroke-width="3.3" stroke-linecap="round" stroke-linejoin="round"/>
<path d="M542.5 204.7C543.5 206.3 546.7 211.5 548.8 214.1C550.8 216.7 553.0 218.3 555.0 220.3C557.0 222.3 559.6 225.1 560.5 226.1" fill="none" stroke="#8e8e8e" stroke-width="3.3" stroke-linecap="round" stroke-linejoin="round"/>
<path d="M656.9 143.3C658.0 144.1 661.0 146.6 663.4 148.3C665.8 150.0 669.9 152.6 671.2 153.4" fill="none" stroke="#8e8e8e" stroke-width="3.3" stroke-linecap="round" stroke-linejoin="round"/>
<path d="M560.9 195.3C562.0 196.5 565.6 199.4 567.5 202.3C569.4 205.2 570.9 208.7 572.2 212.5C573.5 216.3 574.3 220.8 575.3 225.0C576.3 229.2 577.1 233.6 578.4 237.5C579.7 241.4 581.8 245.5 583.1 248.4C584.4 251.3 585.7 253.6 586.2 254.7" fill="none" stroke="#8e8e8e" stroke-width="2.5" stroke-linecap="round" stroke-linejoin="round"/>
<path d="M1004.0 369.7C1000.9 368.8 993.6 366.2 985.2 364.4C976.9 362.6 964.4 360.6 954.0 359.0C943.6 357.4 933.2 356.4 922.8 355.0C912.3 353.6 901.9 352.0 891.5 350.3C881.1 348.6 870.7 346.8 860.2 344.7C849.8 342.6 838.9 340.6 829.0 337.8C819.1 335.0 807.9 330.7 800.6 328.0C793.3 325.3 790.2 323.7 785.0 321.7C779.8 319.7 774.6 318.2 769.4 316.2C764.2 314.3 759.0 312.3 753.8 310.0C748.5 307.7 742.4 304.9 738.1 302.2C733.8 299.5 731.1 296.9 728.1 293.8C725.1 290.6 722.9 287.0 720.3 283.6C717.7 280.2 715.1 276.3 712.5 273.4C709.9 270.5 707.1 267.9 704.7 266.4C702.4 264.9 700.5 264.2 698.4 264.5C696.3 264.8 694.0 265.9 692.2 268.0C690.4 270.1 689.1 273.8 687.5 277.3C685.9 280.8 684.6 285.3 682.8 289.1C681.0 292.9 678.6 296.8 676.5 300.0C674.4 303.2 672.1 305.9 670.3 308.4C668.5 310.9 667.7 312.7 665.6 314.8C663.5 316.9 660.9 318.5 657.8 320.8C654.7 323.1 650.7 326.4 646.9 328.5C643.1 330.6 640.0 332.0 635.2 333.4C630.5 334.8 623.8 336.0 618.4 336.9C613.0 337.8 608.0 338.5 602.8 338.5C597.6 338.5 592.4 338.1 587.2 336.9C582.0 335.7 576.8 333.6 571.6 331.4C566.4 329.1 561.1 326.5 555.9 323.4C550.7 320.2 545.0 316.4 540.3 312.5C535.6 308.6 531.8 304.9 527.8 300.0C523.8 295.1 519.7 288.5 516.2 283.1C512.8 277.7 509.6 271.3 506.9 267.5C504.2 263.7 502.4 260.6 500.0 260.3C497.6 260.0 494.9 262.1 492.8 265.9C490.7 269.7 488.8 277.1 487.5 283.1C486.2 289.1 485.0 295.1 485.0 301.9C485.0 308.7 485.9 316.5 487.5 323.8C489.1 331.0 491.9 338.8 494.4 345.6C496.8 352.4 500.1 359.2 502.2 364.4C504.3 369.6 505.9 371.7 506.9 376.9C507.9 382.1 507.9 389.4 508.4 395.6C508.9 401.9 508.7 409.2 510.0 414.4C511.3 419.6 513.1 423.5 516.2 426.9C519.4 430.3 522.5 432.6 528.8 434.7C535.0 436.8 549.6 438.6 553.8 439.4" fill="none" stroke="#8e8e8e" stroke-width="3.3" stroke-linecap="round" stroke-linejoin="round"/>
<path d="M516.2 426.9 C518.3 428.2 522.5 432.6 528.8 434.7" fill="none" stroke="#8e8e8e" stroke-width="3.72" stroke-linecap="round"/>
<path d="M528.8 434.7 C535.0 436.8 544.4 438.2 553.8 439.4" fill="none" stroke="#8e8e8e" stroke-width="4.15" stroke-linecap="round"/>
<path d="M553.8 439.4 C563.1 440.5 572.0 441.4 585.0 441.6" fill="none" stroke="#8e8e8e" stroke-width="4.58" stroke-linecap="round"/>
<path d="M585.0 441.6 C598.0 441.9 616.3 441.2 631.9 440.9C647.5 440.6 666.8 439.9 678.8 440.0C690.7 440.1 694.3 440.3 703.8 441.5C713.2 442.7 724.8 444.9 735.2 447.2C745.7 449.4 756.1 452.8 766.5 455.0C776.9 457.2 787.3 458.7 797.8 460.3C808.2 461.9 818.6 463.3 829.0 464.4C839.4 465.5 844.6 466.1 860.2 466.9C875.9 467.7 898.8 468.2 922.8 469.0C946.7 469.8 990.5 471.2 1004.0 471.6" fill="none" stroke="#8e8e8e" stroke-width="5.00" stroke-linecap="round" stroke-linejoin="round"/>
<path d="M1021.2 255.0C1015.2 255.5 996.5 256.8 985.2 258.1C974.0 259.4 964.4 261.2 954.0 262.8C943.6 264.4 933.2 266.3 922.8 267.5C912.3 268.7 901.9 269.6 891.5 270.0C881.1 270.4 870.7 270.4 860.2 269.7C849.8 269.0 837.6 267.0 829.0 265.9C820.4 264.8 813.6 263.8 808.4 262.8C803.1 261.8 801.4 261.8 797.5 260.0C793.6 258.2 788.6 254.9 785.0 252.2C781.4 249.5 778.2 245.8 775.6 243.6C773.0 241.4 771.7 240.5 769.4 238.9C767.1 237.3 764.7 235.5 761.6 234.2C758.5 232.9 754.5 231.8 750.6 231.1C746.7 230.4 742.0 230.1 738.1 230.0C734.2 229.9 730.1 229.7 727.2 230.3C724.3 230.9 722.5 231.8 720.9 233.4C719.3 235.0 718.3 236.8 717.5 239.7C716.7 242.6 716.6 246.4 716.2 250.6C715.9 254.8 715.9 259.8 715.5 264.7C715.1 269.6 714.8 274.8 713.9 280.3C713.0 285.8 711.4 292.0 710.0 297.5C708.6 303.0 706.7 308.4 705.3 313.1C703.9 317.8 702.2 322.0 701.4 325.6C700.6 329.2 700.0 332.1 700.3 335.0C700.6 337.9 701.6 340.6 703.0 342.8C704.4 345.0 707.5 347.4 708.4 348.3" fill="none" stroke="#8e8e8e" stroke-width="3.3" stroke-linecap="round" stroke-linejoin="round"/>
<path d="M703.0 342.8 C703.9 343.7 705.7 346.9 708.4 348.3" fill="none" stroke="#8e8e8e" stroke-width="3.72" stroke-linecap="round"/>
<path d="M708.4 348.3 C711.1 349.7 715.5 350.6 719.4 351.4" fill="none" stroke="#8e8e8e" stroke-width="4.15" stroke-linecap="round"/>
<path d="M719.4 351.4 C723.3 352.2 727.7 352.7 731.9 353.0" fill="none" stroke="#8e8e8e" stroke-width="4.58" stroke-linecap="round"/>
<path d="M731.9 353.0 C736.1 353.3 740.8 353.3 744.4 353.0C748.0 352.7 750.6 352.4 753.8 351.4C756.9 350.3 760.0 348.1 763.1 346.7C766.2 345.3 768.9 343.6 772.5 342.8C776.1 342.0 780.3 341.9 785.0 342.0C789.7 342.1 793.3 342.7 800.6 343.6C807.9 344.5 819.1 345.9 829.0 347.2C838.9 348.5 850.9 349.4 860.2 351.2C869.6 353.1 877.4 355.9 885.2 358.1C893.1 360.3 899.8 363.0 907.1 364.4C914.4 365.8 921.2 366.9 929.0 366.6C936.8 366.3 945.7 364.7 954.0 362.8C962.3 360.9 971.2 357.1 979.0 355.0C986.8 352.9 993.9 351.3 1000.9 350.3C1007.9 349.3 1017.8 349.0 1021.2 348.8" fill="none" stroke="#8e8e8e" stroke-width="5.00" stroke-linecap="round" stroke-linejoin="round"/>
<path d="M769.4 253.8C769.3 255.6 769.1 260.8 768.6 264.7C768.1 268.6 767.2 272.8 766.2 277.2C765.3 281.6 764.1 286.6 763.1 291.2C762.1 295.9 760.9 300.6 760.0 305.3C759.1 310.0 758.3 314.4 757.7 319.4C757.1 324.3 756.8 332.4 756.6 335.0" fill="none" stroke="#8e8e8e" stroke-width="2.5" stroke-linecap="round" stroke-linejoin="round"/>
<path d="M715.5 265.9C716.3 265.7 723.8 263.6 725.6 263.1C727.4 262.6 735.0 260.8 736.6 260.3C738.2 259.9 743.4 258.3 744.4 257.7C745.4 257.1 748.3 253.7 749.1 253.0C749.9 252.3 752.8 250.2 753.8 249.8C754.7 249.4 759.0 248.7 760.0 248.3C761.0 247.9 765.3 245.9 766.2 245.2C767.2 244.5 770.8 240.6 771.2 240.2" fill="none" stroke="#000000" stroke-width="2.55" stroke-linecap="round" stroke-linejoin="round"/>
<path d="M713.1 284.5C713.6 285.1 718.4 290.8 719.4 292.0C720.4 293.2 724.4 298.0 725.6 298.8C726.8 299.5 732.4 300.5 733.4 300.9C734.4 301.3 737.6 302.8 738.1 303.4C738.6 304.0 739.9 307.2 740.0 308.4C740.1 309.6 739.8 316.4 739.7 317.8C739.6 319.2 738.5 324.7 738.9 325.6C739.3 326.5 743.5 328.3 744.4 328.8C745.3 329.2 749.1 329.9 749.8 330.6C750.5 331.3 752.3 335.6 753.0 336.6C753.7 337.6 757.5 341.8 758.4 342.8C759.3 343.8 763.0 348.3 763.4 348.8" fill="none" stroke="#000000" stroke-width="2.55" stroke-linecap="round" stroke-linejoin="round"/>
<path d="M707.7 305.6C708.2 305.8 712.1 307.5 713.1 308.4C714.1 309.3 718.4 314.9 719.4 316.2C720.4 317.6 724.0 324.0 724.8 324.8C725.6 325.6 727.8 326.4 728.8 326.4C729.7 326.4 735.8 324.9 736.6 324.8C737.4 324.7 738.7 325.5 738.9 325.6" fill="none" stroke="#000000" stroke-width="2.55" stroke-linecap="round" stroke-linejoin="round"/>
<path d="M441 207.8H484.7V201.2L514.3 217.6L484.7 234V227.3H441Z" fill="#000"/>
<path d="M520.3 507.2C520.0 512.1 519.4 526.2 518.8 536.9C518.1 547.6 517.8 560.8 516.2 571.2C514.7 581.7 511.5 591.1 509.4 599.4C507.3 607.7 504.9 614.5 503.8 621.2C502.6 628.0 502.3 633.8 502.5 640.0C502.7 646.2 503.8 652.5 504.7 658.8C505.6 665.0 507.0 671.8 507.8 677.5C508.6 683.2 508.8 687.3 509.4 693.1C510.0 698.9 510.7 707.2 511.6 712.5C512.5 717.8 513.8 721.6 514.7 725.0C515.6 728.4 515.4 730.2 517.0 732.8C518.6 735.4 522.4 738.0 524.1 740.6C525.8 743.2 525.9 745.0 527.2 748.4C528.5 751.8 530.3 757.0 531.9 760.9C533.5 764.8 535.0 768.5 536.6 771.9C538.2 775.3 539.4 778.6 541.2 781.2C543.1 783.9 544.4 784.9 547.5 787.5C550.6 790.1 555.8 794.3 560.0 796.9C564.2 799.5 567.8 801.3 572.5 803.1C577.2 804.9 582.9 806.8 588.1 807.8C593.3 808.8 598.9 808.9 603.8 808.9C608.6 808.9 612.6 808.3 617.0 807.6C621.4 806.9 625.8 805.9 630.0 804.6C634.2 803.3 638.2 801.6 642.0 800.0C645.8 798.4 650.8 795.7 652.5 794.8" fill="none" stroke="#8e8e8e" stroke-width="3.3" stroke-linecap="round" stroke-linejoin="round"/>
<path d="M655.5 670.6C657.5 671.7 663.4 674.5 667.2 677.2C671.0 679.9 674.7 683.0 678.1 686.6C681.5 690.2 685.0 694.7 687.5 699.1C690.0 703.5 691.8 708.4 693.0 713.1C694.2 717.8 694.9 722.5 695.0 727.2C695.1 731.9 694.6 736.3 693.8 741.2C692.9 746.2 691.6 752.0 689.8 756.9C688.0 761.8 685.8 766.5 682.8 770.9C679.8 775.3 676.1 779.8 671.9 783.4C667.7 787.0 662.5 790.4 657.8 792.8C653.1 795.1 648.7 796.4 643.8 797.5C638.8 798.6 633.3 799.4 628.1 799.5C622.9 799.6 618.1 799.3 612.5 798.3C606.9 797.3 599.8 795.7 594.4 793.8C589.0 791.8 585.0 789.6 580.3 786.7C575.6 783.8 570.7 780.4 566.2 776.6C561.8 772.8 557.7 768.5 553.8 764.1C549.8 759.7 545.9 754.7 542.8 750.0C539.7 745.3 537.3 740.3 535.0 735.9C532.7 731.5 530.6 727.5 528.8 723.4C526.9 719.3 524.9 713.3 524.1 711.2" fill="none" stroke="#8e8e8e" stroke-width="3.3" stroke-linecap="round" stroke-linejoin="round"/>
<path d="M641.6 507.2C641.5 509.3 641.1 515.3 640.9 520.0C640.7 524.7 640.3 530.4 640.2 535.6C640.1 540.8 640.1 546.0 640.2 551.2C640.3 556.5 640.5 561.7 640.9 566.9C641.3 572.1 641.9 577.3 642.5 582.5C643.1 587.7 643.8 592.9 644.8 598.1C645.8 603.3 647.2 608.5 648.8 613.8C650.3 619.0 652.2 624.2 654.2 629.4C656.2 634.6 658.3 640.0 660.5 645.0C662.7 650.0 665.1 654.8 667.5 659.1C669.9 663.4 671.7 666.9 675.0 670.9C678.3 674.9 683.6 679.2 687.5 683.4C691.4 687.6 695.3 691.7 698.4 695.9C701.5 700.1 704.3 704.2 706.2 708.4C708.2 712.6 709.4 717.1 710.2 720.9C711.0 724.7 711.1 729.3 711.2 731.0" fill="none" stroke="#8e8e8e" stroke-width="3.3" stroke-linecap="round" stroke-linejoin="round"/>
<path d="M635.5 650.5C636.3 651.7 638.7 655.3 640.5 657.5C642.3 659.7 645.4 662.7 646.4 663.8" fill="none" stroke="#8e8e8e" stroke-width="3.3" stroke-linecap="round" stroke-linejoin="round"/>
<path d="M507.8 674.4C508.9 677.0 512.2 685.6 514.1 690.0C516.0 694.4 518.5 699.1 519.4 700.9" fill="none" stroke="#8e8e8e" stroke-width="3.3" stroke-linecap="round" stroke-linejoin="round"/>
<path d="M528.8 672.8C529.4 674.6 531.8 679.8 532.8 683.8C533.8 687.7 534.8 692.3 535.0 696.2C535.2 700.2 534.0 705.6 533.8 707.5" fill="none" stroke="#8e8e8e" stroke-width="2.5" stroke-linecap="round" stroke-linejoin="round"/>
<path d="M652.5 794.8C650.7 795.7 645.5 798.5 641.5 800.3C637.5 802.1 633.7 804.1 628.8 805.6C623.8 807.1 618.0 808.6 611.7 809.0C605.5 809.4 598.3 809.0 591.2 807.8C584.2 806.6 576.7 804.7 569.4 801.6C562.1 798.5 554.3 794.0 547.5 789.0C540.7 784.0 534.0 777.4 528.8 771.9C523.5 766.4 519.9 762.0 516.2 756.2C512.6 750.5 509.8 741.8 506.9 737.5C504.0 733.2 501.6 730.6 499.0 730.3C496.4 730.0 493.5 732.1 491.2 735.9C489.0 739.7 486.9 746.6 485.6 753.1C484.3 759.6 483.2 767.2 483.4 775.0C483.6 782.8 484.8 791.7 486.6 800.0C488.4 808.3 491.8 818.0 494.4 825.0C497.0 832.0 500.2 837.5 502.2 842.2C504.2 846.9 505.5 848.2 506.2 853.1C507.0 858.0 506.4 866.2 506.9 871.9C507.4 877.6 507.8 883.1 509.4 887.5C511.0 891.9 513.0 895.4 516.2 898.4C519.5 901.4 522.5 903.7 528.8 905.6C535.0 907.5 549.6 909.3 553.8 910.0" fill="none" stroke="#8e8e8e" stroke-width="3.3" stroke-linecap="round" stroke-linejoin="round"/>
<path d="M516.2 898.4 C518.3 899.6 522.5 903.7 528.8 905.6" fill="none" stroke="#8e8e8e" stroke-width="3.72" stroke-linecap="round"/>
<path d="M528.8 905.6 C535.0 907.5 544.4 909.0 553.8 910.0" fill="none" stroke="#8e8e8e" stroke-width="4.15" stroke-linecap="round"/>
<path d="M553.8 910.0 C563.1 911.0 572.0 911.6 585.0 911.9" fill="none" stroke="#8e8e8e" stroke-width="4.58" stroke-linecap="round"/>
<path d="M585.0 911.9 C598.0 912.2 616.3 911.9 631.9 911.6C647.5 911.3 666.8 910.2 678.8 910.3C690.7 910.4 694.3 910.7 703.8 912.2C713.2 913.7 724.8 916.8 735.2 919.2C745.7 921.6 756.1 924.2 766.5 926.4C776.9 928.6 787.3 930.6 797.8 932.3C808.2 934.0 818.6 935.3 829.0 936.4C839.4 937.5 844.6 938.0 860.2 938.9C875.9 939.8 899.1 941.0 922.8 941.7C946.4 942.4 989.1 943.0 1002.4 943.2" fill="none" stroke="#8e8e8e" stroke-width="5.00" stroke-linecap="round" stroke-linejoin="round"/>
<path d="M957.1 830.1C960.8 830.9 971.5 833.0 979.0 834.8C986.5 836.6 998.5 840.0 1002.4 841.1" fill="none" stroke="#8e8e8e" stroke-width="3.3" stroke-linecap="round" stroke-linejoin="round"/>
<path d="M719.4 708.6C719.5 706.4 719.8 699.5 720.3 695.3C720.8 691.1 721.0 686.7 722.2 683.6C723.4 680.5 725.4 678.2 727.7 676.6C730.0 675.0 732.7 674.5 736.2 674.2C739.8 673.9 744.6 674.4 748.8 675.0C752.9 675.6 757.9 676.8 761.2 677.8C764.6 678.8 767.0 680.2 769.1 681.2C771.2 682.3 773.0 683.6 773.8 684.1" fill="none" stroke="#8e8e8e" stroke-width="3.3" stroke-linecap="round" stroke-linejoin="round"/>
<path d="M751.9 711.7C752.9 712.9 755.5 716.1 758.1 718.8C760.7 721.4 763.9 725.0 767.5 727.3C771.1 729.6 775.3 731.5 780.0 732.8C784.7 734.1 790.1 734.5 795.6 735.2C801.1 735.9 807.2 736.4 812.8 737.2C818.4 738.0 821.1 739.2 829.0 740.0C836.9 740.8 849.8 742.0 860.2 742.0C870.7 742.0 881.1 741.1 891.5 740.1C901.9 739.1 912.3 737.1 922.8 735.8C933.2 734.4 943.6 733.0 954.0 731.7C964.4 730.4 977.2 728.7 985.2 727.9C993.3 727.1 999.5 727.1 1002.4 727.0" fill="none" stroke="#8e8e8e" stroke-width="3.3" stroke-linecap="round" stroke-linejoin="round"/>
<path d="M696.9 736.7C697.0 738.4 697.6 742.9 697.2 746.9C696.9 750.9 696.1 756.2 694.8 760.9C693.5 765.6 691.4 769.6 689.5 775.0C687.6 780.4 684.6 787.8 683.4 793.0C682.2 798.2 682.0 802.2 682.5 806.2C683.0 810.3 684.1 814.6 686.6 817.2C689.1 819.8 695.7 821.1 697.5 821.9" fill="none" stroke="#8e8e8e" stroke-width="3.3" stroke-linecap="round" stroke-linejoin="round"/>
<path d="M686.6 817.2 C688.4 818.0 692.0 820.6 697.5 821.9" fill="none" stroke="#8e8e8e" stroke-width="3.72" stroke-linecap="round"/>
<path d="M697.5 821.9 C703.0 823.2 713.6 824.8 719.4 825.0" fill="none" stroke="#8e8e8e" stroke-width="4.15" stroke-linecap="round"/>
<path d="M719.4 825.0 C725.2 825.2 727.9 824.7 732.1 823.2" fill="none" stroke="#8e8e8e" stroke-width="4.58" stroke-linecap="round"/>
<path d="M732.1 823.2 C736.3 821.8 740.4 817.7 744.6 816.1C748.8 814.5 750.9 813.6 757.1 813.6C763.4 813.6 772.7 815.1 782.1 816.1C791.5 817.1 803.0 818.8 813.4 819.8C823.8 820.8 835.8 820.8 844.6 822.3C853.5 823.8 859.7 826.5 866.5 828.6C873.3 830.7 878.5 833.3 885.2 834.8C892.0 836.2 899.8 837.1 907.1 837.3C914.4 837.5 921.2 837.0 929.0 835.8C936.8 834.5 945.7 831.7 954.0 829.5C962.3 827.3 970.9 823.9 979.0 822.3C987.1 820.7 998.5 820.5 1002.4 820.1" fill="none" stroke="#8e8e8e" stroke-width="5.00" stroke-linecap="round" stroke-linejoin="round"/>
<path d="M750.3 725.0C750.0 727.7 749.4 735.3 748.5 741.0C747.6 746.7 746.0 753.1 744.8 759.4C743.5 765.7 742.1 772.6 741.0 779.0C739.9 785.4 738.7 793.5 738.1 798.0C737.5 802.5 737.6 804.9 737.5 806.2" fill="none" stroke="#8e8e8e" stroke-width="2.5" stroke-linecap="round" stroke-linejoin="round"/>
<path d="M718.8 708.9C719.9 708.6 730.9 706.1 733.1 705.5C735.3 704.9 744.2 702.3 745.6 701.6C747.0 700.9 748.6 697.6 749.5 696.9C750.4 696.2 754.9 693.3 755.8 693.0C756.7 692.7 759.6 693.3 760.5 693.0C761.4 692.7 765.6 689.8 766.7 689.1C767.8 688.4 773.2 684.5 773.8 684.1" fill="none" stroke="#000000" stroke-width="2.55" stroke-linecap="round" stroke-linejoin="round"/>
<path d="M696.9 736.7C698.1 736.4 709.0 733.4 711.2 732.8C713.5 732.1 723.1 729.6 724.5 728.9C725.9 728.2 727.6 724.9 728.4 724.2C729.2 723.5 733.0 720.6 733.9 720.3C734.8 719.9 737.6 720.3 738.6 720.0C739.6 719.7 744.5 717.2 745.6 716.4C746.7 715.6 751.4 711.4 751.9 710.9" fill="none" stroke="#000000" stroke-width="2.55" stroke-linecap="round" stroke-linejoin="round"/>
<path d="M407.8 694.6H452.2V688.4L481.4 704.8L452.2 721.3V714.7H407.8Z" fill="#000"/>
<text transform="translate(157.4 247.5) scale(0.965 1)" font-size="35.4" text-anchor="middle" stroke="#fff" stroke-width="0.3">TYPE I</text>
<text transform="translate(157.0 583.0) scale(0.965 1)" font-size="35.4" text-anchor="middle" stroke="#fff" stroke-width="0.3">TYPE II</text>
<text transform="translate(157.8 938.4) scale(0.965 1)" font-size="35.4" text-anchor="middle" stroke="#fff" stroke-width="0.3">TYPE III</text>
<text transform="translate(858.6 581.9) scale(0.965 1)" font-size="35.4" text-anchor="middle" stroke="#fff" stroke-width="0.3">TYPE IV</text>
</g>
</svg>
</body>
</html>
